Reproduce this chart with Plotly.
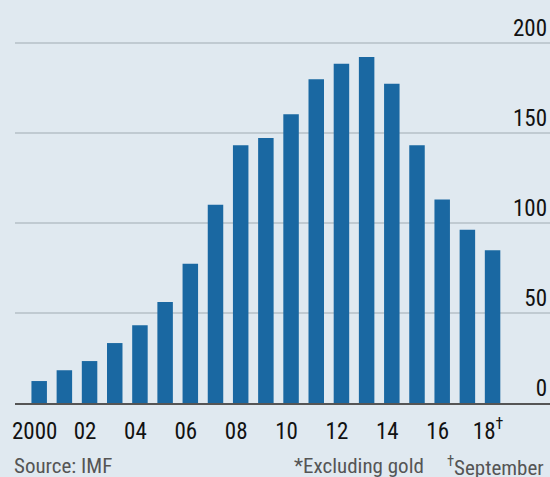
import plotly.graph_objects as go

years = list(range(2000, 2019))
reserves = [12.2, 18.2, 23.3, 33.3, 43.2, 56.1, 77.4, 110.2, 143.2, 147.2,
            160.4, 179.8, 188.5, 192.2, 177.4, 143.2, 113.0, 96.3, 84.8]
tick_years = list(range(2000, 2019, 2))
tick_labels = ["2000", "02", "04", "06", "08", "10", "12", "14", "16", "18<sup>†</sup>"]
y_ticks = [0, 50, 100, 150, 200]

FONT = "Liberation Sans Narrow, Roboto Condensed, Arial Narrow, sans-serif"
BG = "#e0e9f0"

fig = go.Figure(go.Bar(x=years, y=reserves, marker=dict(color="#1a68a2", line=dict(width=0)),
                       hoverinfo="skip"))

fig.update_layout(
    width=550, height=477,
    margin=dict(l=15, r=0, t=0, b=74),
    paper_bgcolor=BG, plot_bgcolor=BG,
    bargap=0.385,
    showlegend=False,
    font=dict(family=FONT, color="#121212"),
    xaxis=dict(range=[1999.04, 2020.28], tickvals=[y - 0.18 for y in tick_years],
               ticktext=tick_labels, showgrid=False, zeroline=False,
               showline=True, linecolor="#555555", linewidth=2, ticks="",
               tickfont=dict(size=23, family=FONT, color="#121212"),
               ticklabelstandoff=6, fixedrange=True),
    yaxis=dict(range=[0, 403 / 1.8], tickvals=y_ticks, side="right",
               ticklabelposition="inside top", ticks="", ticklabelshift=1,
               showgrid=True, gridcolor="#c0cad1", gridwidth=1.5, zeroline=False,
               tickfont=dict(size=23, family=FONT, color="#121212"), fixedrange=True),
)

fig.add_annotation(text="Source: IMF", xref="paper", yref="paper", x=-0.0056, y=-0.157,
                   xanchor="left", yanchor="middle", showarrow=False,
                   font=dict(size=21, family=FONT, color="#555555"))
fig.add_annotation(text="*Excluding gold", xref="paper", yref="paper", x=(426 - 15) / 535, y=-0.157,
                   xanchor="right", yanchor="middle", showarrow=False,
                   font=dict(size=21, family=FONT, color="#555555"))
fig.add_annotation(text="<sup>†</sup>September", xref="paper", yref="paper", x=(546 - 15) / 535, y=-0.157,
                   xanchor="right", yanchor="middle", showarrow=False,
                   font=dict(size=21, family=FONT, color="#555555"))

fig.write_html("out.html", config={"displayModeBar": False, "staticPlot": True},
               post_script="document.body.style.margin='0';document.body.style.overflow='hidden';")
